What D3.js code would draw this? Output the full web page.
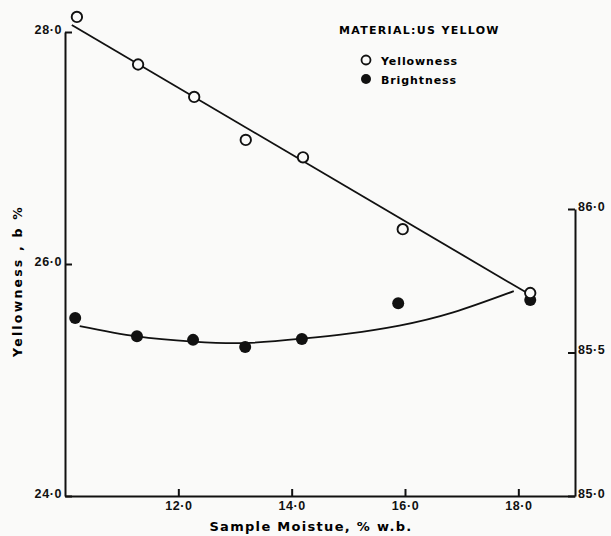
<!DOCTYPE html>
<html>
<head>
  <meta charset="utf-8">
  <title>Yellowness and brightness vs sample moisture</title>
  <script src="https://d3js.org/d3.v7.min.js"></script>
  <style>
    body { margin: 0; background: #fafaf9; }
    svg { display: block; font-family: "DejaVu Sans", sans-serif; }
    .axis path, .axis line { stroke: #111; stroke-width: 2; }
    .axis text { font-size: 12.5px; font-weight: bold; fill: #111; letter-spacing: 0.6px; }
  </style>
</head>
<body>
<script>

// data
var moisture   = [10.21, 11.29, 12.28, 13.19, 14.20, 15.96, 18.21];
var yellowness = [28.13, 27.72, 27.44, 27.07, 26.92, 26.30, 25.75];

var brightMoisture = [10.18, 11.27, 12.26, 13.18, 14.18, 15.88, 18.21];
var brightness     = [85.620, 85.557, 85.544, 85.519, 85.547, 85.672, 85.683];

// fitted lines as drawn on the chart
var yellowFitX = [10.12, 18.12];
var yellowFitY = [28.06, 25.76];
var brightFitX = [10.26, 11.27, 12.26, 13.18, 14.18, 15.0, 15.9, 16.85, 17.92];
var brightFitY = [85.592, 85.556, 85.538, 85.533, 85.548, 85.566, 85.594, 85.640, 85.714];

var xTicks = [12, 14, 16, 18];
var yTicks = [24, 26, 28];
var y2Ticks = [85, 85.5, 86];

var svgWidth = 611, svgHeight = 536;

var svg = d3.select('body').append('svg')
    .attr('width', svgWidth)
    .attr('height', svgHeight);

var x = d3.scaleLinear().domain([10, 19]).range([65, 575]);
var y = d3.scaleLinear().domain([24, 28]).range([496, 32]);
var y2 = d3.scaleLinear().domain([85, 86]).range([496, 209]);

var fmt = function(d) { return d3.format('.1f')(d).replace('.', '·'); };

svg.append('g')
    .attr('class', 'axis')
    .attr('transform', 'translate(0,496)')
    .call(d3.axisBottom(x).tickValues(xTicks).tickSizeInner(-7).tickSizeOuter(0).tickPadding(4).tickFormat(fmt))
    .selectAll('text').attr('dy', '0.8em');

svg.append('g')
    .attr('class', 'axis')
    .attr('transform', 'translate(65,0)')
    .call(d3.axisLeft(y).tickValues(yTicks).tickSizeInner(-7).tickSizeOuter(0).tickPadding(3).tickFormat(fmt))
    .selectAll('text').attr('dy', '0.1em');

svg.append('g')
    .attr('class', 'axis')
    .attr('transform', 'translate(575,0)')
    .call(d3.axisRight(y2).tickValues(y2Ticks).tickSizeInner(-7).tickSizeOuter(0).tickPadding(3).tickFormat(fmt))
    .selectAll('text').attr('dy', '0.1em');

// fit lines
var line = d3.line()
    .x(function(d) { return x(d[0]); })
    .y(function(d) { return d[1]; });

svg.append('path')
    .attr('d', line(d3.zip(yellowFitX, yellowFitY.map(y))))
    .attr('fill', 'none').attr('stroke', '#111').attr('stroke-width', 1.8);

svg.append('path')
    .attr('d', line.curve(d3.curveNatural)(d3.zip(brightFitX, brightFitY.map(y2))))
    .attr('fill', 'none').attr('stroke', '#111').attr('stroke-width', 1.8);

// points
svg.selectAll('.bright')
    .data(d3.zip(brightMoisture, brightness))
    .enter().append('circle')
    .attr('class', 'bright')
    .attr('cx', function(d) { return x(d[0]); })
    .attr('cy', function(d) { return y2(d[1]); })
    .attr('r', 6)
    .attr('fill', '#111');

svg.selectAll('.yellow')
    .data(d3.zip(moisture, yellowness))
    .enter().append('circle')
    .attr('class', 'yellow')
    .attr('cx', function(d) { return x(d[0]); })
    .attr('cy', function(d) { return y(d[1]); })
    .attr('r', 5.2)
    .attr('fill', '#fafaf9')
    .attr('stroke', '#111')
    .attr('stroke-width', 1.9);

// legend
svg.append('text')
    .attr('x', 339).attr('y', 34)
    .style('font-size', '11px').style('font-weight', 'bold').style('letter-spacing', '1.3px')
    .text('MATERIAL:US YELLOW');

svg.append('circle').attr('cx', 366).attr('cy', 60).attr('r', 4.5)
    .attr('fill', 'none').attr('stroke', '#111').attr('stroke-width', 1.8);
svg.append('text').attr('x', 381).attr('y', 65)
    .style('font-size', '11px').style('font-weight', 'bold').style('letter-spacing', '0.9px')
    .text('Yellowness');

svg.append('circle').attr('cx', 366).attr('cy', 79).attr('r', 5).attr('fill', '#111');
svg.append('text').attr('x', 381).attr('y', 84)
    .style('font-size', '11px').style('font-weight', 'bold').style('letter-spacing', '0.9px')
    .text('Brightness');

// axis titles
svg.append('text')
    .attr('transform', 'translate(22,281) rotate(-90)')
    .attr('text-anchor', 'middle')
    .style('font-size', '12.5px').style('font-weight', 'bold').style('letter-spacing', '2.2px')
    .text('Yellowness , b %');

svg.append('text')
    .attr('x', 311).attr('y', 531)
    .attr('text-anchor', 'middle')
    .style('font-size', '13px').style('font-weight', 'bold').style('letter-spacing', '1.3px')
    .text('Sample Moistue, % w.b.');

</script>
</body>
</html>
